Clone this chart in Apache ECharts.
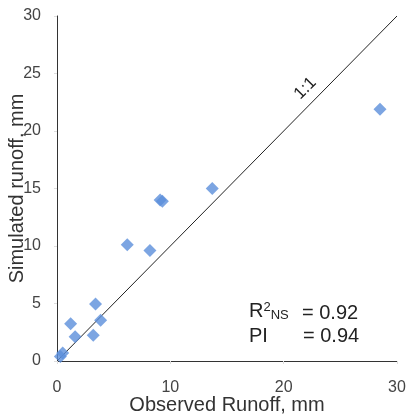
<!DOCTYPE html>
<html><head><meta charset="utf-8">
<script src="https://cdn.jsdelivr.net/npm/echarts@6/dist/echarts.min.js"></script>
<style>html,body{margin:0;padding:0;background:#fff}#c{width:409px;height:415px}</style>
</head><body><div id="c"></div>
<script>
const observed = [0.3, 0.5, 1.2, 1.6, 3.2, 3.4, 3.85, 6.2, 8.2, 9.1, 9.3, 13.7, 28.5];
const simulated = [0.4, 0.7, 3.25, 2.1, 2.25, 4.95, 3.55, 10.1, 9.6, 14.0, 13.9, 15.0, 21.9];
const oneToOne = [[0, 0], [30, 30]];
const xTicks = [0, 10, 20, 30];
const yTicks = [0, 5, 10, 15, 20, 25, 30];
const stats = { r2: '0.92', pi: '0.94' };

const chart = echarts.init(document.getElementById('c'));
const font = 'Liberation Sans, Arial, sans-serif';
const txt = { fontSize: 20, fontFamily: font, fill: '#222' };
chart.setOption({
  animation: false,
  backgroundColor: '#fff',
  grid: { left: 57, right: 12, top: 16, bottom: 54, outerBoundsMode: 'none', containLabel: false },
  xAxis: [{
    type: 'value', min: 0, max: 30, interval: 10,
    name: 'Observed Runoff, mm', nameLocation: 'middle', nameGap: 34, nameMoveOverlap: false,
    nameTextStyle: { fontFamily: font, fontSize: 20, color: '#333' },
    axisLine: { lineStyle: { color: '#ccc' } },
    axisTick: { show: true, length: 3, lineStyle: { color: '#ddd' } },
    axisLabel: { fontFamily: font, fontSize: 16, color: '#444', margin: 19,
      formatter: v => xTicks.includes(v) ? String(v) : '' },
    splitLine: { show: false }
  }, {
    type: 'value', min: 0, max: 30, position: 'top',
    axisLine: { show: true, lineStyle: { color: '#333' } },
    axisTick: { show: false }, axisLabel: { show: false }, splitLine: { show: false }
  }],
  yAxis: [{
    type: 'value', min: 0, max: 30, interval: 5,
    name: 'Simulated runoff, mm', nameLocation: 'middle', nameGap: 30, nameMoveOverlap: false,
    nameTextStyle: { fontFamily: font, fontSize: 20, color: '#333' },
    axisLine: { show: true, lineStyle: { color: '#ddd' } },
    axisTick: { show: true, length: 3, lineStyle: { color: '#ddd' } },
    axisLabel: { fontFamily: font, fontSize: 16, color: '#444', margin: 16,
      formatter: v => yTicks.includes(v) ? String(v) : '' },
    splitLine: { show: false }
  }, {
    type: 'value', min: 0, max: 30, position: 'right',
    axisLine: { show: true, lineStyle: { color: '#333' } },
    axisTick: { show: false }, axisLabel: { show: false }, splitLine: { show: false }
  }],
  series: [{
    type: 'line', data: oneToOne, symbol: 'none', silent: true,
    lineStyle: { color: '#222', width: 1 }, z: 1
  }, {
    type: 'scatter', data: observed.map((x, i) => [x, simulated[i]]),
    symbol: 'diamond', symbolSize: 13,
    itemStyle: { color: '#5b8edb' }, z: 3
  }],
  graphic: [{
    type: 'text', left: 291, top: 74, rotation: Math.PI / 4,
    style: { text: '1:1', font: '17px ' + font, fill: '#222' }
  }, {
    type: 'text', left: 249, top: 301,
    style: {
      rich: {
        a: { fontSize: 20, fontFamily: font, fill: '#222' },
        sup: { fontSize: 13, fontFamily: font, fill: '#222', verticalAlign: 'top', padding: [0, 0, 8, 0] },
        sub: { fontSize: 13, fontFamily: font, fill: '#222', verticalAlign: 'bottom', padding: [8, 0, 0, 0] }
      },
      text: '{a|R}{sup|2}{sub|NS}'
    }
  }, {
    type: 'text', left: 302, top: 303, style: Object.assign({ text: '= ' + stats.r2 }, txt)
  }, {
    type: 'text', left: 249, top: 326, style: Object.assign({ text: 'PI' }, txt)
  }, {
    type: 'text', left: 303, top: 326, style: Object.assign({ text: '= ' + stats.pi }, txt)
  }]
});
</script></body></html>
